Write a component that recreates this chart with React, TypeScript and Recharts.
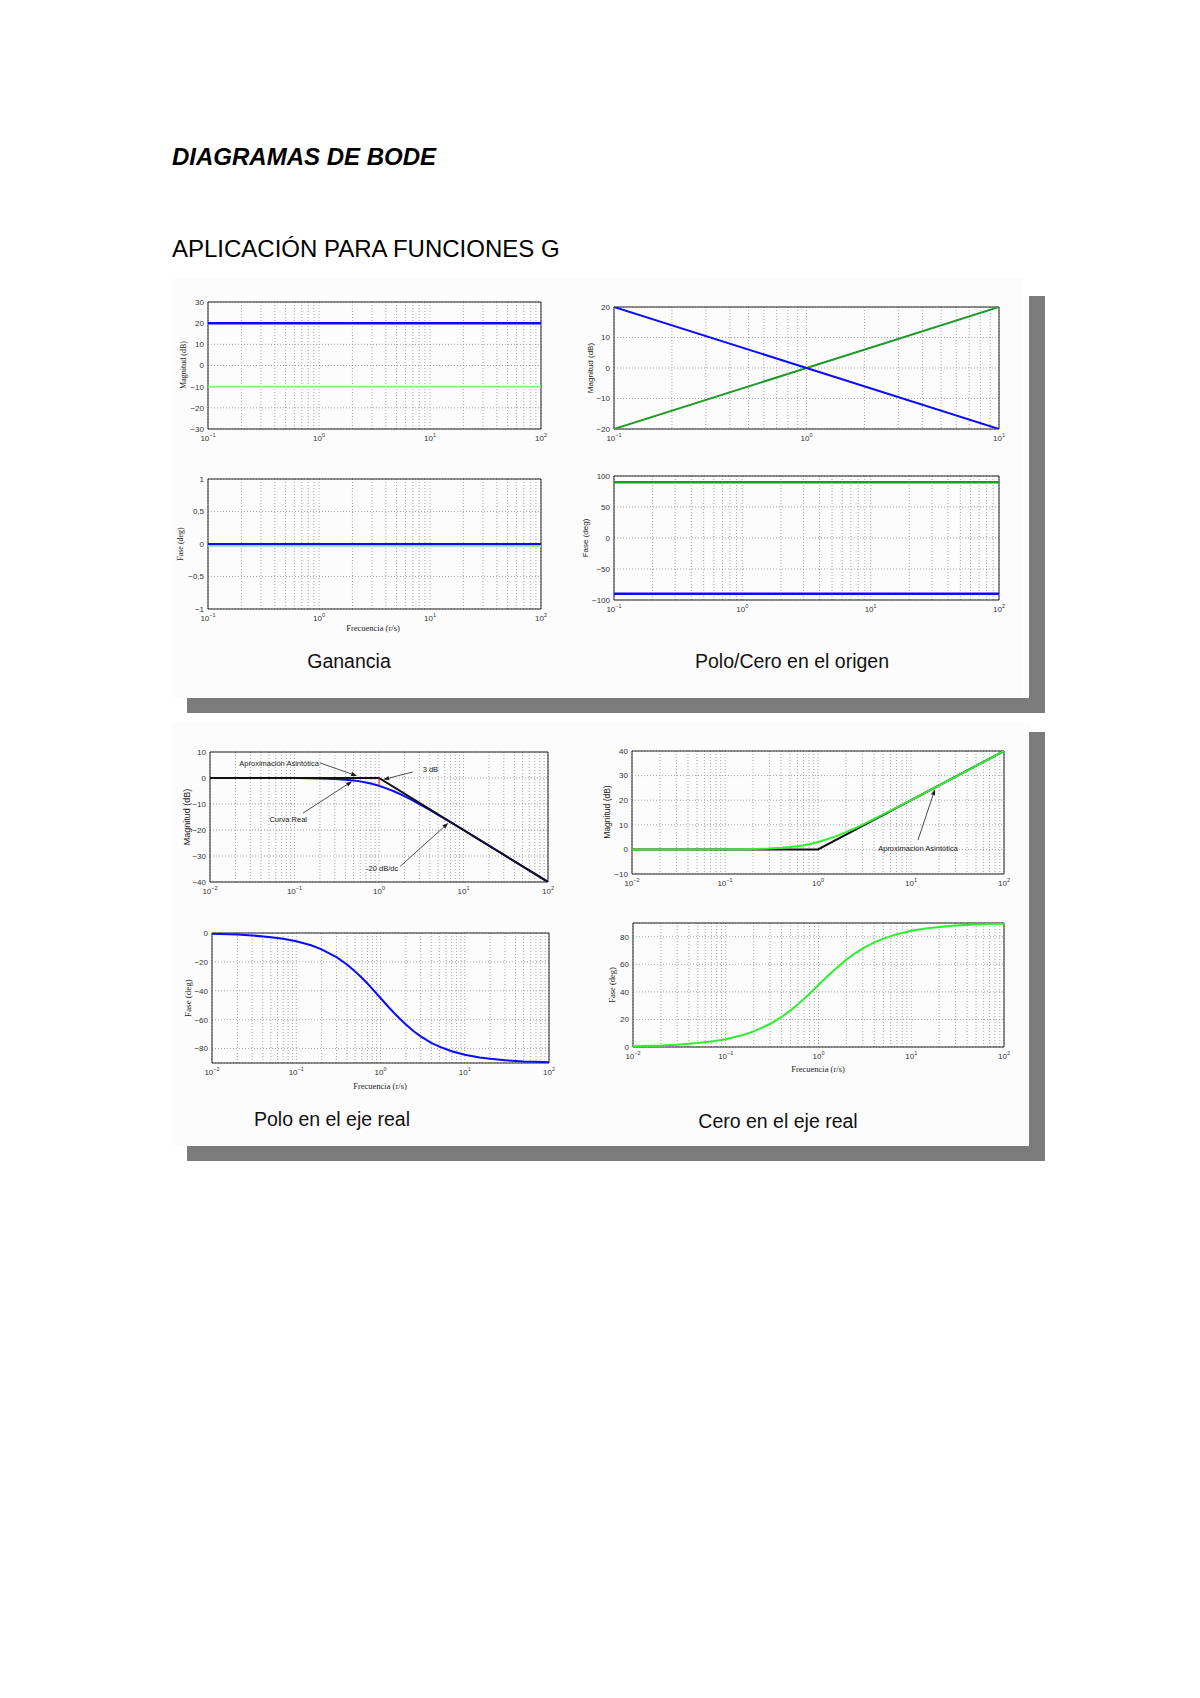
import React from 'react';
import { LineChart, Line, XAxis, YAxis, CartesianGrid, ReferenceArea, ReferenceLine } from 'recharts';

const SANS = '"Liberation Sans", Arial, sans-serif';
const SERIF = '"Liberation Serif", "Times New Roman", serif';

// decades for the log x axes
const decades3 = [0.1, 1, 10, 100];
const decades2 = [0.1, 1, 10];
const decades4 = [0.01, 0.1, 1, 10, 100];

// y ticks
const gainDbTicks = [-30, -20, -10, 0, 10, 20, 30];
const gainPhaseTicks = [-1, -0.5, 0, 0.5, 1];
const originDbTicks = [-20, -10, 0, 10, 20];
const originPhaseTicks = [-100, -50, 0, 50, 100];
const poleDbTicks = [-40, -30, -20, -10, 0, 10];
const polePhaseTicks = [-90, -80, -60, -40, -20, 0];
const zeroDbTicks = [-10, 0, 10, 20, 30, 40];
const zeroPhaseTicks = [0, 20, 40, 60, 80, 90];

// Ganancia
const gainFreq = [0.1, 100];
const gainBlueDb = [20, 20];
const gainGreenDb = [-10, -10];
const gainBluePhase = [0, 0];
const gainGreenPhase = [-0.025, -0.025];

// Polo/Cero en el origen
const originFreq = [0.1, 10];
const originPoleDb = [20, -20];
const originZeroDb = [-20, 20];
const originPhaseFreq = [0.1, 100];
const originPolePhase = [-90, -90];
const originZeroPhase = [90, 90];

// Polo / Cero en el eje real
const realFreq = [0.01, 0.02, 0.03, 0.05, 0.07, 0.1, 0.15, 0.2, 0.3, 0.4, 0.5, 0.6, 0.7, 0.8, 1, 1.2, 1.5, 2, 2.5, 3, 4, 5, 7, 10, 15, 20, 30, 50, 70, 100];
const poleRealDb = [0, 0, 0, 0, 0, -0.04, -0.1, -0.17, -0.37, -0.65, -0.97, -1.3, -1.7, -2.1, -3.0, -3.9, -5.1, -7.0, -8.6, -10.0, -12.3, -14.2, -17.0, -20.0, -23.5, -26.0, -29.5, -34.0, -36.9, -40.0];
const poleRealPhase = [-0.6, -1.1, -1.7, -2.9, -4.0, -5.7, -8.5, -11.3, -16.7, -21.8, -26.6, -31.0, -35.0, -38.7, -45.0, -50.2, -56.3, -63.4, -68.2, -71.6, -76.0, -78.7, -81.9, -84.3, -86.2, -87.1, -88.1, -88.9, -89.2, -89.4];
const zeroRealDb = [0, 0, 0, 0, 0, 0.04, 0.1, 0.17, 0.37, 0.65, 0.97, 1.3, 1.7, 2.1, 3.0, 3.9, 5.1, 7.0, 8.6, 10.0, 12.3, 14.2, 17.0, 20.0, 23.5, 26.0, 29.5, 34.0, 36.9, 40.0];
const zeroRealPhase = [0.6, 1.1, 1.7, 2.9, 4.0, 5.7, 8.5, 11.3, 16.7, 21.8, 26.6, 31.0, 35.0, 38.7, 45.0, 50.2, 56.3, 63.4, 68.2, 71.6, 76.0, 78.7, 81.9, 84.3, 86.2, 87.1, 88.1, 88.9, 89.2, 89.4];
const asymFreq = [0.01, 1, 100];
const poleAsymDb = [0, 0, -40];
const zeroAsymDb = [0, 0, 40];
const markFreq = [1, 1];
const markDb = [0, -3];

const series = (xs: number[], ys: number[]) => xs.map((x, i) => ({ x, y: ys[i] }));

const logTicks = (d: number[]) => {
  const t: number[] = [];
  for (let i = 0; i < d.length - 1; i++) for (let k = 1; k < 10; k++) t.push(d[i] * k);
  t.push(d[d.length - 1]);
  return t;
};

const minus = (v: number) => (v < 0 ? '−' + String(-v) : String(v)).replace('.', ',');

const LogTick = (props: any) => {
  const { x, y, payload } = props;
  const e = Math.log10(payload.value);
  if (Math.abs(e - Math.round(e)) > 1e-6) return <g />;
  const n = Math.round(e);
  return (
    <text x={x} y={y + 8} textAnchor="middle" fontSize={8} fill="#333" fontFamily={SANS}>
      10
      <tspan dy={-4} fontSize={5.5}>{n < 0 ? '−' + -n : n}</tspan>
    </text>
  );
};

const arrowShape = (label: string, anchor: 'start' | 'end' | 'middle', dx: number, dy: number) => (p: any) => {
  const { x1, y1, x2, y2 } = p;
  const a = Math.atan2(y2 - y1, x2 - x1);
  const L = 6, W = 2.2;
  const bx = x2 - L * Math.cos(a), by = y2 - L * Math.sin(a);
  const px = -Math.sin(a) * W, py = Math.cos(a) * W;
  return (
    <g>
      <line x1={x1} y1={y1} x2={bx} y2={by} stroke="#222" strokeWidth={0.8} />
      <polygon points={`${x2},${y2} ${bx + px},${by + py} ${bx - px},${by - py}`} fill="#222" />
      <text x={x1 + dx} y={y1 + dy} textAnchor={anchor} fontSize={7.5} fill="#222" fontFamily={SANS}>{label}</text>
    </g>
  );
};

const YW = 40, TOPM = 6;

function BodePlot({ left, top, w, h, decades, yTicks, fmt = minus, children }: any) {
  const xd = [decades[0], decades[decades.length - 1]];
  const yd = [yTicks[0], yTicks[yTicks.length - 1]];
  return (
    <div style={{ position: 'absolute', left: left - YW, top: top - TOPM }}>
      <LineChart width={YW + w + 12} height={TOPM + h + 22} margin={{ top: TOPM, right: 12, bottom: 0, left: 0 }}>
        <CartesianGrid strokeDasharray="1 2" stroke="#a8a8a8" />
        <XAxis type="number" dataKey="x" scale="log" domain={xd} ticks={logTicks(decades)} tick={<LogTick />}
          tickLine={false} axisLine={false} height={22} interval={0} tickSize={2} tickMargin={2} allowDataOverflow />
        <YAxis type="number" domain={yd} ticks={yTicks.filter((t: number) => Math.abs(t) !== 90)} width={YW} tickLine={false} axisLine={false}
          tickFormatter={fmt} tick={{ fontSize: 8, fill: '#333', fontFamily: SANS }} interval={0} tickSize={2} tickMargin={2} allowDataOverflow />
        <ReferenceArea x1={xd[0]} x2={xd[1]} y1={yd[0]} y2={yd[1]} fill="none" stroke="#222" strokeWidth={1} fillOpacity={0} />
        {children}
      </LineChart>
    </div>
  );
}

const line = (data: any[], color: string, width: number) => (
  <Line data={data} dataKey="y" stroke={color} strokeWidth={width} dot={false} isAnimationActive={false} type="linear" />
);

const VLabel = ({ x, y, text, font, size = 8 }: any) => (
  <div style={{ position: 'absolute', left: x, top: y, transform: 'translate(-50%,-50%) rotate(-90deg)', whiteSpace: 'nowrap', fontFamily: font, fontSize: size, color: '#222', lineHeight: 1 }}>{text}</div>
);
const HLabel = ({ x, y, text, font, size = 8.5 }: any) => (
  <div style={{ position: 'absolute', left: x, top: y, transform: 'translate(-50%,-50%)', whiteSpace: 'nowrap', fontFamily: font, fontSize: size, color: '#222', lineHeight: 1 }}>{text}</div>
);
const Caption = ({ x, y, text }: any) => (
  <div style={{ position: 'absolute', left: x, top: y, transform: 'translate(-50%,-50%)', whiteSpace: 'nowrap', fontFamily: SANS, fontSize: 19.5, color: '#111', lineHeight: 1 }}>{text}</div>
);
const Box = ({ l, t, w, h, c }: any) => <div style={{ position: 'absolute', left: l, top: t, width: w, height: h, background: c }} />;

const BLUE = '#0a0aff';
const LGREEN = '#7cf07c';
const DGREEN = '#1f9a2a';
const BGREEN = '#2ef02e';
const PANEL = '#fcfcfc';
const SHADOW = '#7b7b7b';

export default function App() {
  return (
    <div style={{ position: 'absolute', left: 0, top: 0, width: 1200, height: 1698, background: '#fff', overflow: 'hidden' }}>
      <div style={{ position: 'absolute', left: 172, top: 145, fontFamily: SANS, fontSize: 24, lineHeight: '24px', fontWeight: 'bold', fontStyle: 'italic', color: '#000' }}>DIAGRAMAS DE BODE</div>
      <div style={{ position: 'absolute', left: 172, top: 237, fontFamily: SANS, fontSize: 24, lineHeight: '24px', color: '#000' }}>APLICACIÓN PARA FUNCIONES G</div>

      {/* panel 1 */}
      <Box l={1029} t={296} w={16} h={417} c={SHADOW} />
      <Box l={187} t={698} w={858} h={15} c={SHADOW} />
      <Box l={172} t={278} w={851} h={420} c={PANEL} />
      {/* panel 2 */}
      <Box l={1029} t={732} w={16} h={429} c={SHADOW} />
      <Box l={187} t={1146} w={858} h={15} c={SHADOW} />
      <Box l={172} t={722} w={857} h={424} c={PANEL} />

      {/* Ganancia */}
      <BodePlot left={208} top={302} w={333} h={127} decades={decades3} yTicks={gainDbTicks}>
        {line(series(gainFreq, gainGreenDb), LGREEN, 1.5)}
        {line(series(gainFreq, gainBlueDb), BLUE, 2.5)}
      </BodePlot>
      <VLabel x={184} y={365} text="Magnitud (dB)" font={SERIF} />
      <BodePlot left={208} top={479} w={333} h={130} decades={decades3} yTicks={gainPhaseTicks}>
        {line(series(gainFreq, gainGreenPhase), LGREEN, 2)}
        {line(series(gainFreq, gainBluePhase), BLUE, 2)}
      </BodePlot>
      <VLabel x={181} y={544} text="Fase (deg)" font={SERIF} />
      <HLabel x={373} y={628} text="Frecuencia (r/s)" font={SERIF} />
      <Caption x={349} y={662} text="Ganancia" />

      {/* Polo/Cero en el origen */}
      <BodePlot left={614} top={307} w={385} h={122} decades={decades2} yTicks={originDbTicks}>
        {line(series(originFreq, originZeroDb), DGREEN, 2)}
        {line(series(originFreq, originPoleDb), BLUE, 2)}
      </BodePlot>
      <VLabel x={591} y={368} text="Magnitud (dB)" font={SANS} />
      <BodePlot left={614} top={476} w={385} h={124} decades={decades3} yTicks={originPhaseTicks}>
        {line(series(originPhaseFreq, originZeroPhase), DGREEN, 2.5)}
        {line(series(originPhaseFreq, originPolePhase), BLUE, 2.5)}
      </BodePlot>
      <VLabel x={586} y={538} text="Fase (deg)" font={SANS} />
      <Caption x={792} y={662} text="Polo/Cero en el origen" />

      {/* Polo en el eje real */}
      <BodePlot left={210} top={752} w={338} h={130} decades={decades4} yTicks={poleDbTicks}>
        {line(series(realFreq, poleRealDb), BLUE, 2)}
        {line(series(asymFreq, poleAsymDb), '#111', 2)}
        {line(series(markFreq, markDb), '#e01010', 1)}
        <ReferenceLine segment={[{ x: 0.2, y: 5.8 }, { x: 0.55, y: 0.8 }]} shape={arrowShape('Aproximación Asintótica', 'end', -1, 3)} />
        <ReferenceLine segment={[{ x: 2.5, y: 2.3 }, { x: 1.12, y: -0.6 }]} shape={arrowShape('3  dB', 'start', 10, 0)} />
        <ReferenceLine segment={[{ x: 0.126, y: -13.5 }, { x: 0.48, y: -1.3 }]} shape={arrowShape('Curva Real', 'end', 4, 9)} />
        <ReferenceLine segment={[{ x: 1.78, y: -34 }, { x: 6.6, y: -17.3 }]} shape={arrowShape('-20 dB/dc', 'end', -2, 5)} />
      </BodePlot>
      <VLabel x={187} y={817} text="Magnitud (dB)" font={SANS} size={9} />
      <BodePlot left={212} top={933} w={337} h={130} decades={decades4} yTicks={polePhaseTicks}>
        {line(series(realFreq, poleRealPhase), BLUE, 2)}
      </BodePlot>
      <VLabel x={188} y={998} text="Fase (deg)" font={SERIF} size={9} />
      <HLabel x={380} y={1086} text="Frecuencia (r/s)" font={SERIF} />
      <Caption x={332} y={1120} text="Polo en el eje real" />

      {/* Cero en el eje real */}
      <BodePlot left={632} top={751} w={372} h={123} decades={decades4} yTicks={zeroDbTicks}>
        {line(series(asymFreq, zeroAsymDb), '#111', 2)}
        {line(series(realFreq, zeroRealDb), BGREEN, 2)}
        <ReferenceLine segment={[{ x: 11.9, y: 3.8 }, { x: 18.1, y: 24.5 }]} shape={arrowShape('Aproximación Asintótica', 'middle', 0, 11)} />
      </BodePlot>
      <VLabel x={607} y={812} text="Magnitud (dB)" font={SANS} size={8.5} />
      <BodePlot left={633} top={923} w={371} h={124} decades={decades4} yTicks={zeroPhaseTicks}>
        {line(series(realFreq, zeroRealPhase), BGREEN, 2)}
      </BodePlot>
      <VLabel x={612} y={985} text="Fase (deg)" font={SERIF} size={8.5} />
      <HLabel x={818} y={1069} text="Frecuencia (r/s)" font={SERIF} />
      <Caption x={778} y={1122} text="Cero en el eje real" />
    </div>
  );
}
